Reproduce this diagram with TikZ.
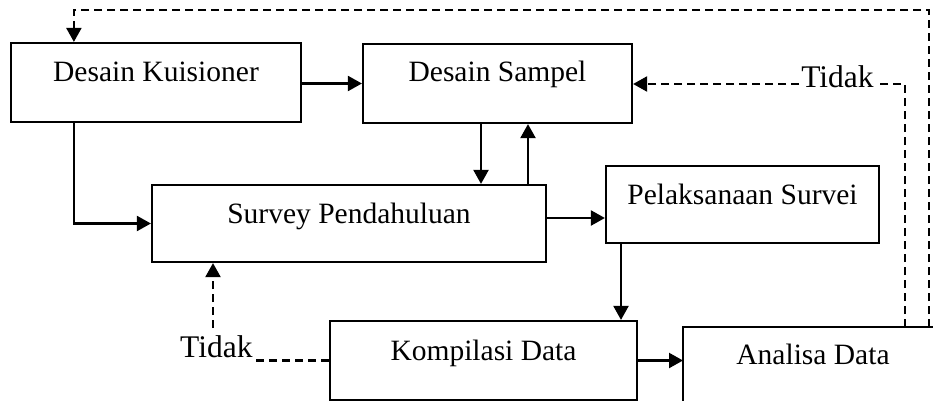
\documentclass[tikz,border=0pt]{standalone}
\usepackage{fontspec}
\setmainfont{Liberation Serif}
\usetikzlibrary{arrows.meta,calc}
\begin{document}
\begin{tikzpicture}[x=1pt,y=-1pt,
  box/.style={draw,line width=2.2pt,rectangle,inner sep=0pt},
  lbl/.style={font=\fontsize{29.5}{31}\selectfont,inner sep=0pt,anchor=base},
  tlbl/.style={font=\fontsize{31.5}{33}\selectfont,inner sep=0pt,anchor=base},
  arr/.style={line width=2.2pt,-{Triangle[length=14pt,width=15pt]}},
  ln/.style={line width=2.2pt},
  dsh/.style={line width=2.2pt,dash pattern=on 8pt off 5pt},
  dsharr/.style={dsh,-{Triangle[length=14pt,width=15pt]}}]
\useasboundingbox (0,0) rectangle (933,401);
% boxes
\node[box,minimum width=290pt,minimum height=79pt] (dk) at (156,82.5) {};
\node[box,minimum width=269pt,minimum height=79pt] (ds) at (497.5,83.5) {};
\node[box,minimum width=394pt,minimum height=77pt] (sp) at (349,223.5) {};
\node[box,minimum width=273pt,minimum height=77pt] (ps) at (742.5,204.5) {};
\node[box,minimum width=307pt,minimum height=79pt] (kd) at (483.5,360.5) {};
\node[inner sep=0pt,minimum width=260pt,minimum height=90pt,anchor=north west] (ana) at (683,327) {};
\draw[ln] (ana.south west) -- (ana.north west) -- (ana.north east);
% labels
\node[lbl] (dkt) at (156,82) {Desain Kuisioner};
\node[lbl] (dst) at (497.5,82) {Desain Sampel};
\node[lbl] (spt) at (349,223) {Survey Pendahuluan};
\node[lbl] (pst) at (742.5,204) {Pelaksanaan Survei};
\node[lbl] (kdt) at (483.5,360) {Kompilasi Data};
\node[lbl] (anat) at (813,364) {Analisa Data};
\node[tlbl,inner xsep=2pt] (t1) at (837.5,88) {Tidak};
\node[tlbl,anchor=base west] (t2) at (180,357) {Tidak};
% coordinates
\coordinate (c1) at (929,10);
\coordinate (c2) at (905,84);
\coordinate (c3) at (213,328);
% solid connectors
\draw[arr] (dk.east |- ds.west) -- (ds.west);
\draw[arr] ([xshift=64pt]dk.south west) |- (sp.west);
\draw[arr] (ds.south -| 481,0) -- (sp.north -| 481,0);
\draw[arr] (sp.north -| 528,0) -- (ds.south -| 528,0);
\draw[arr] (sp.east |- 0,218) -- (ps.west |- 0,218);
\draw[arr] (ps.south -| 621,0) -- (kd.north -| 621,0);
\draw[arr] (kd.east) -- (ana.west |- kd.east);
% dashed connectors
\draw[dsharr] (ana.north -| c1) -- (c1) -| ([xshift=64pt]dk.north west);
\draw[dsh] (ana.north -| c2) -- (c2) -- (c2 -| t1.east);
\draw[dsharr] (c2 -| t1.west) -- (c2 -| ds.east);
\draw[dsh] (kd.west) -- (kd.west -| t2.east);
\draw[dsharr] (c3) -- (sp.south -| c3);
\end{tikzpicture}
\end{document}
